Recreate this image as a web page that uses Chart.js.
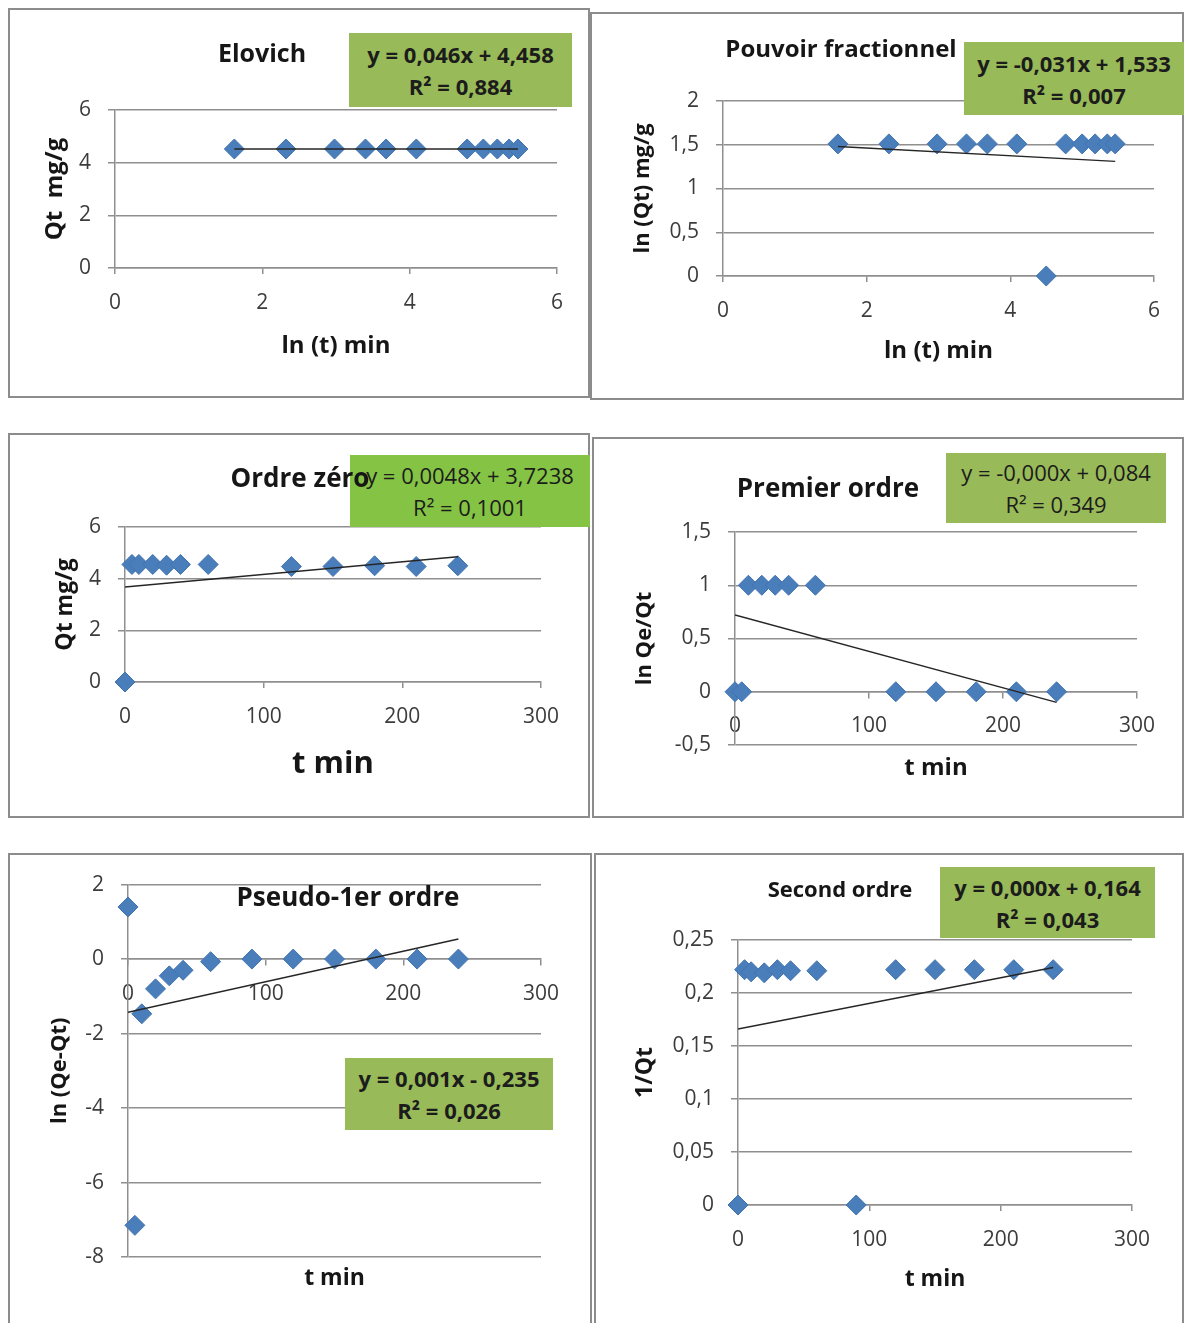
<!DOCTYPE html>
<html>
<head>
<meta charset="utf-8">
<title>Cinétique d'adsorption</title>
<script src="https://cdn.jsdelivr.net/npm/chart.js@4.4.0/dist/chart.umd.min.js"></script>
<style>
  body { margin: 0; background: #fff; }
  #page { position: relative; width: 1184px; height: 1323px; overflow: hidden; background: #fff; }
  .panel { position: absolute; box-sizing: border-box; border: 2px solid #8c8c8c; background: #fff; }
  .panel canvas { position: absolute; left: 0; top: 0; }
  .title { position: absolute; transform: translate(-50%, -50%); white-space: nowrap;
           font-family: "Open Sans", Lato, sans-serif; font-weight: 700; color: #161616; z-index: 3; }
  .eq { position: absolute; box-sizing: border-box; display: flex; flex-direction: column;
        justify-content: center; align-items: center; font-family: "Open Sans", Lato, sans-serif;
        font-size: 22px; line-height: 32px; color: #1c1c1c; white-space: nowrap; z-index: 2; }
</style>
</head>
<body>
<div id="page"></div>
<script>
// ----------------------------------------------------------
// data (t in min, ln(t) for the first two plots)
const elovichX = [1.62, 2.32, 2.98, 3.40, 3.68, 4.09, 4.78, 5.0, 5.19, 5.35, 5.47];
const elovichY = [4.52, 4.52, 4.52, 4.52, 4.52, 4.52, 4.52, 4.52, 4.52, 4.52, 4.52];
const elovichTrendX = [1.62, 5.47];
const elovichTrendY = [4.52, 4.52];

const fractionX = [1.6, 2.31, 2.98, 3.39, 3.68, 4.09, 4.5, 4.77, 5.0, 5.18, 5.35, 5.46];
const fractionY = [1.51, 1.51, 1.51, 1.51, 1.51, 1.51, 0, 1.51, 1.51, 1.51, 1.51, 1.51];
const fractionTrendX = [1.6, 5.46];
const fractionTrendY = [1.48, 1.31];

const zeroX = [0, 5, 10, 20, 30, 40, 60, 120, 150, 180, 210, 240];
const zeroY = [0, 4.55, 4.55, 4.55, 4.52, 4.55, 4.55, 4.47, 4.47, 4.5, 4.47, 4.5];
const zeroTrendX = [0, 240];
const zeroTrendY = [3.68, 4.85];

const firstX = [0, 5, 10, 20, 30, 40, 60, 120, 150, 180, 210, 240];
const firstY = [0, 0, 1, 1, 1, 1, 1, 0, 0, 0, 0, 0];
const firstTrendX = [0, 240];
const firstTrendY = [0.72, -0.1];

const pseudoX = [0, 5, 10, 20, 30, 40, 60, 90, 120, 150, 180, 210, 240];
const pseudoY = [1.4, -7.15, -1.47, -0.8, -0.45, -0.3, -0.07, 0, 0, 0, 0, 0, 0];
const pseudoTrendX = [0, 240];
const pseudoTrendY = [-1.43, 0.54];

const secondX = [0, 5, 10, 20, 30, 40, 60, 90, 120, 150, 180, 210, 240];
const secondY = [0, 0.222, 0.22, 0.219, 0.222, 0.221, 0.221, 0, 0.222, 0.222, 0.222, 0.222, 0.222];
const secondTrendX = [0, 240];
const secondTrendY = [0.166, 0.224];

// ----------------------------------------------------------
const FONT = "'Open Sans', Lato, sans-serif";
const BLUE = "#4a7ebb";
const GRID = "#8f8f8f";
const OLIVE = "#98ba58";

// panel layout: box = border rect, plot = [left, top, right, bottom] of the plot area
const panels = [
  {
    box: [8, 8, 582, 390], plot: [115, 110, 557, 268],
    xs: elovichX, ys: elovichY, tx: elovichTrendX, ty: elovichTrendY,
    x: { min: 0, max: 6, step: 2 }, y: { min: 0, max: 6, step: 2 },
    title: { text: "Elovich", x: 262, y: 52, size: 25 },
    xTitle: { text: "ln (t) min", y: 346, size: 24 },
    yTitle: { text: "Qt  mg/g", x: 55, size: 24 },
    eq: { rect: [349, 33, 223, 74], color: OLIVE, bold: true, lines: ["y = 0,046x + 4,458", "R² = 0,884"] },
  },
  {
    box: [590, 12, 594, 388], plot: [723, 101, 1154, 276],
    xs: fractionX, ys: fractionY, tx: fractionTrendX, ty: fractionTrendY,
    x: { min: 0, max: 6, step: 2 }, y: { min: 0, max: 2, step: 0.5 },
    title: { text: "Pouvoir fractionnel", x: 841, y: 47, size: 24 },
    xTitle: { text: "ln (t) min", y: 351, size: 24 },
    yTitle: { text: "ln (Qt) mg/g", x: 643, size: 22 },
    eq: { rect: [964, 42, 220, 73], color: OLIVE, bold: true, lines: ["y = -0,031x + 1,533", "R² = 0,007"] },
  },
  {
    box: [8, 433, 582, 385], plot: [125, 527, 541, 682],
    xs: zeroX, ys: zeroY, tx: zeroTrendX, ty: zeroTrendY,
    x: { min: 0, max: 300, step: 100 }, y: { min: 0, max: 6, step: 2 },
    title: { text: "Ordre zéro", x: 300, y: 477, size: 26 },
    xTitle: { text: "t min", y: 764, size: 31 },
    yTitle: { text: "Qt mg/g", x: 65, size: 23 },
    eq: { rect: [350, 455, 240, 72], color: "#84c344", bold: false, lines: ["y = 0,0048x + 3,7238", "R² = 0,1001"] },
  },
  {
    box: [592, 437, 592, 381], plot: [735, 532, 1137, 745], xAtZero: true,
    xs: firstX, ys: firstY, tx: firstTrendX, ty: firstTrendY,
    x: { min: 0, max: 300, step: 100 }, y: { min: -0.5, max: 1.5, step: 0.5 },
    title: { text: "Premier ordre", x: 828, y: 487, size: 26 },
    xTitle: { text: "t min", y: 768, size: 24 },
    yTitle: { text: "ln Qe/Qt", x: 645, size: 22 },
    eq: { rect: [946, 453, 220, 70], color: OLIVE, bold: false, lines: ["y = -0,000x + 0,084", "R² = 0,349"] },
  },
  {
    box: [8, 853, 584, 474], plot: [128, 883, 541, 1257], xAtZero: true,
    xs: pseudoX, ys: pseudoY, tx: pseudoTrendX, ty: pseudoTrendY,
    x: { min: 0, max: 300, step: 100 }, y: { min: -8, max: 2, step: 2 },
    title: { text: "Pseudo-1er ordre", x: 348, y: 896, size: 26 },
    xTitle: { text: "t min", y: 1278, size: 23 },
    yTitle: { text: "ln (Qe-Qt)", x: 60, size: 22 },
    eq: { rect: [345, 1058, 208, 72], color: OLIVE, bold: true, lines: ["y = 0,001x - 0,235", "R² = 0,026"] },
  },
  {
    box: [594, 853, 590, 474], plot: [738, 940, 1132, 1205],
    xs: secondX, ys: secondY, tx: secondTrendX, ty: secondTrendY,
    x: { min: 0, max: 300, step: 100 }, y: { min: 0, max: 0.25, step: 0.05 },
    title: { text: "Second ordre", x: 840, y: 888, size: 22 },
    xTitle: { text: "t min", y: 1279, size: 23 },
    yTitle: { text: "1/Qt", x: 645, size: 23 },
    eq: { rect: [940, 867, 215, 71], color: OLIVE, bold: true, lines: ["y = 0,000x + 0,164", "R² = 0,043"] },
  },
];

// ----------------------------------------------------------
// decimal comma like the original
function fmt(v) {
  return String(Math.round(v * 1000) / 1000).replace(".", ",");
}

function toPoints(xs, ys) {
  return xs.map((x, i) => ({ x: x, y: ys[i] }));
}

// ----------------------------------------------------------
function makePanel(p) {
  const page = document.getElementById("page");
  const div = document.createElement("div");
  div.className = "panel";
  div.style.left = p.box[0] + "px";
  div.style.top = p.box[1] + "px";
  div.style.width = p.box[2] + "px";
  div.style.height = p.box[3] + "px";
  page.appendChild(div);

  // canvas sits inside the 2px border
  const cl = p.box[0] + 2, ct = p.box[1] + 2;
  const cw = p.box[2] - 4, ch = p.box[3] - 4;
  const canvas = document.createElement("canvas");
  canvas.width = cw;
  canvas.height = ch;
  canvas.style.width = cw + "px";
  canvas.style.height = ch + "px";
  div.appendChild(canvas);

  const [pl, pt, pr, pb] = p.plot;
  const xFont = { family: FONT, size: p.xTitle.size, weight: "bold", lineHeight: 1.2 };
  const yFont = { family: FONT, size: p.yTitle.size, weight: "bold", lineHeight: 1.2 };
  const xLH = p.xTitle.size * 1.2;
  const yLH = p.yTitle.size * 1.2;
  const tickFont = { family: FONT, size: 21 };

  const xScale = {
    type: "linear",
    min: p.x.min, max: p.x.max,
    ticks: { stepSize: p.x.step, padding: 16, color: "#3c3c3c", font: tickFont, callback: fmt },
    grid: { drawOnChartArea: false, drawTicks: true, tickLength: 6, color: GRID, lineWidth: 1.5 },
    border: { display: true, color: GRID, width: 1.5 },
  };
  const plugins = { legend: { display: false }, tooltip: { enabled: false } };

  if (p.xAtZero) {
    // axis crosses at y = 0, title stays at the bottom
    xScale.position = { y: 0 };
    const padTop = p.xTitle.y - pb - xLH / 2;
    plugins.title = {
      display: true, position: "bottom", fullSize: false, text: p.xTitle.text,
      color: "#161616", font: xFont,
      padding: { top: padTop, bottom: ct + ch - pb - padTop - xLH },
    };
  } else {
    xScale.position = "bottom";
    xScale.afterFit = (s) => { s.height = ct + ch - pb; };
    xScale.title = {
      display: true, text: p.xTitle.text, color: "#161616", font: xFont,
      padding: { top: 0, bottom: ct + ch - p.xTitle.y - xLH / 2 },
    };
  }

  const yScale = {
    type: "linear", position: "left",
    min: p.y.min, max: p.y.max,
    ticks: { stepSize: p.y.step, padding: 17, color: "#3c3c3c", font: tickFont, callback: fmt },
    grid: { color: GRID, lineWidth: 1.5, tickLength: 7 },
    border: { display: true, color: GRID, width: 1.5 },
    afterFit: (s) => { s.width = pl - cl; },
    title: {
      display: true, text: p.yTitle.text, color: "#161616", font: yFont,
      padding: { top: p.yTitle.x - cl - yLH / 2, bottom: 0 },
    },
  };

  new Chart(canvas.getContext("2d"), {
    type: "scatter",
    data: {
      datasets: [
        {
          // trendline first so it is drawn over the markers
          data: toPoints(p.tx, p.ty),
          showLine: true,
          borderColor: "#262626",
          borderWidth: 1.5,
          pointRadius: 0,
          fill: false,
        },
        {
          data: toPoints(p.xs, p.ys),
          pointStyle: "rectRot",
          pointRadius: 10,
          backgroundColor: BLUE,
          borderColor: "#4173b0",
          borderWidth: 1,
          clip: false,
        },
      ],
    },
    options: {
      responsive: false,
      animation: false,
      devicePixelRatio: 1,
      layout: { padding: { top: pt - ct, right: cl + cw - pr, left: 0, bottom: 0 } },
      scales: { x: xScale, y: yScale },
      plugins: plugins,
    },
  });

  // equation box
  const eq = document.createElement("div");
  eq.className = "eq";
  eq.style.left = p.eq.rect[0] + "px";
  eq.style.top = p.eq.rect[1] + "px";
  eq.style.width = p.eq.rect[2] + "px";
  eq.style.height = p.eq.rect[3] + "px";
  eq.style.background = p.eq.color;
  eq.style.fontWeight = p.eq.bold ? "700" : "400";
  p.eq.lines.forEach((line) => {
    const span = document.createElement("span");
    span.textContent = line;
    eq.appendChild(span);
  });
  page.appendChild(eq);

  // chart title
  const t = document.createElement("div");
  t.className = "title";
  t.textContent = p.title.text;
  t.style.left = p.title.x + "px";
  t.style.top = p.title.y + "px";
  t.style.fontSize = p.title.size + "px";
  page.appendChild(t);
}

panels.forEach(makePanel);
</script>
</body>
</html>
